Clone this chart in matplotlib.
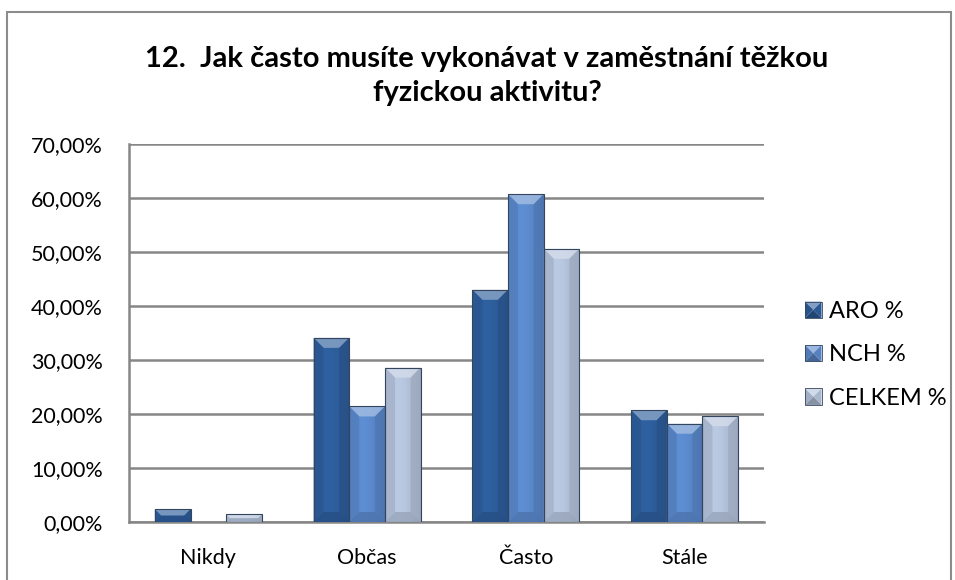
import numpy as np
import matplotlib
matplotlib.use("Agg")
import matplotlib.pyplot as plt
from matplotlib.patches import Rectangle, Polygon
from matplotlib.colors import to_rgb
from matplotlib.ticker import FuncFormatter, MultipleLocator
from matplotlib.legend_handler import HandlerBase

categories = ["Nikdy", "Občas", "Často", "Stále"]
series = ["ARO %", "NCH %", "CELKEM %"]
aro = [2.35, 34.1, 43.0, 20.7]
nch = [0.0, 21.4, 60.7, 18.2]
celkem = [1.4, 28.6, 50.6, 19.6]

colors = ["#2d5d9b", "#5a88cb", "#b3c2da"]
title = "12.  Jak často musíte vykonávat v zaměstnání těžkou\nfyzickou aktivitu?"

plt.rcParams['font.family'] = ['Lato', 'DejaVu Sans']

W, H = 955, 580
fig = plt.figure(figsize=(W / 100, H / 100), dpi=100)
# plot area in pixels: x 129..764, y 144..522
ax = fig.add_axes([129 / W, 1 - 522 / H, 635 / W, 378 / H])

# chart frame
fig.add_artist(Rectangle((7 / W, -0.05), 944 / W, 1.05 - 12 / H,
                         transform=fig.transFigure, fill=False,
                         edgecolor="#8c8c8c", linewidth=1.5))

ax.set_ylim(0, 70)
ax.set_xlim(-0.5, 3.5)
px_x = 635 / 4.0   # pixels per x unit
px_y = 378 / 70.0  # pixels per y unit


def shade(c, f):
    c = np.array(to_rgb(c))
    if f >= 1:
        return tuple(np.clip(c + (1 - c) * (f - 1), 0, 1))
    return tuple(np.clip(c * f, 0, 1))


def bevel_bar(b, col):
    bx, by, bw, bh = b.get_x(), b.get_y(), b.get_width(), b.get_height()
    if bh <= 0:
        return
    d = min(10.0, bh * px_y / 2, bw * px_x / 2)
    dx, dy = d / px_x, d / px_y
    x0, x1, y0, y1 = bx, bx + bw, by, by + bh
    # face with horizontal gradient
    t = np.linspace(0, 1, 64)
    f = 1.04 - 0.5 * (t - 0.35) ** 2
    base = np.array(to_rgb(col))
    grad = np.clip(base[None, :] * f[:, None], 0, 1)[None, :, :]
    im = ax.imshow(grad, extent=(x0, x1, y0, y1), aspect="auto",
                   zorder=3.4, interpolation="bilinear")
    im.set_clip_path(b)
    faces = [
        ([(x0, y1), (x1, y1), (x1 - dx, y1 - dy), (x0 + dx, y1 - dy)], shade(col, 1.45)),
        ([(x0, y0), (x0, y1), (x0 + dx, y1 - dy), (x0 + dx, y0 + dy)], shade(col, 0.92)),
        ([(x1, y0), (x1, y1), (x1 - dx, y1 - dy), (x1 - dx, y0 + dy)], shade(col, 0.88)),
        ([(x0, y0), (x1, y0), (x1 - dx, y0 + dy), (x0 + dx, y0 + dy)], shade(col, 0.85)),
    ]
    for pts, fc in faces:
        ax.add_patch(Polygon(pts, closed=True, facecolor=fc, edgecolor="none",
                             alpha=0.8, zorder=3.6))
    ax.add_patch(Rectangle((x0, y0), bw, bh, fill=False, edgecolor="#34465e",
                           linewidth=0.8, zorder=3.8))


class PyramidHandler(HandlerBase):
    def create_artists(self, legend, orig_handle, xdescent, ydescent,
                       width, height, fontsize, trans):
        col = orig_handle.get_facecolor()
        s = min(width, height)
        x0, y0 = -xdescent, -ydescent + (height - s) / 2
        x1, y1 = x0 + s, y0 + s
        cx, cy = (x0 + x1) / 2, (y0 + y1) / 2
        tris = [
            ([(x0, y1), (x1, y1), (cx, cy)], shade(col, 1.4)),
            ([(x0, y0), (x0, y1), (cx, cy)], shade(col, 0.9)),
            ([(x1, y0), (x1, y1), (cx, cy)], shade(col, 0.95)),
            ([(x0, y0), (x1, y0), (cx, cy)], shade(col, 0.75)),
        ]
        arts = [Polygon(p, closed=True, facecolor=fc, edgecolor="none",
                        transform=trans) for p, fc in tris]
        arts.append(Rectangle((x0, y0), s, s, fill=False, edgecolor="#34465e",
                              linewidth=0.6, transform=trans))
        return arts


x = np.arange(len(categories))
w = 0.225
data = [aro, nch, celkem]
handles = []
for i, (vals, col) in enumerate(zip(data, colors)):
    bars = ax.bar(x + (i - 1) * w, vals, w, color=col, edgecolor="none",
                  label=series[i], zorder=3)
    handles.append(bars.patches[0])
    for b in bars:
        bevel_bar(b, col)

ax.yaxis.set_major_locator(MultipleLocator(10))
ax.yaxis.set_major_formatter(FuncFormatter(lambda v, p: f"{v:.2f}%".replace(".", ",")))
ax.set_xticks(x)
ax.set_xticklabels(categories)
ax.tick_params(axis="both", labelsize=15.5, length=0)
ax.tick_params(axis="y", pad=19)
ax.tick_params(axis="x", pad=19)
ax.grid(axis="y", color="#868686", linewidth=1.8, zorder=0)
ax.set_axisbelow(True)
for s in ["top", "right"]:
    ax.spines[s].set_visible(False)
for s in ["left", "bottom"]:
    ax.spines[s].set_color("#868686")
    ax.spines[s].set_linewidth(1.8)

fig.text(487 / W, 1 - 76 / H, title, ha="center", va="center",
         fontsize=21, fontweight="bold", linespacing=1.4)

leg = ax.legend(handles, series, loc="center left",
                bbox_to_anchor=(805 / W, 1 - 355 / H),
                bbox_transform=fig.transFigure, frameon=False, borderpad=0,
                borderaxespad=0, fontsize=17, handlelength=0.7, handleheight=0.7,
                handletextpad=0.3, labelspacing=0.95,
                handler_map={h: PyramidHandler() for h in handles})

fig.savefig("out.png", dpi=100)
